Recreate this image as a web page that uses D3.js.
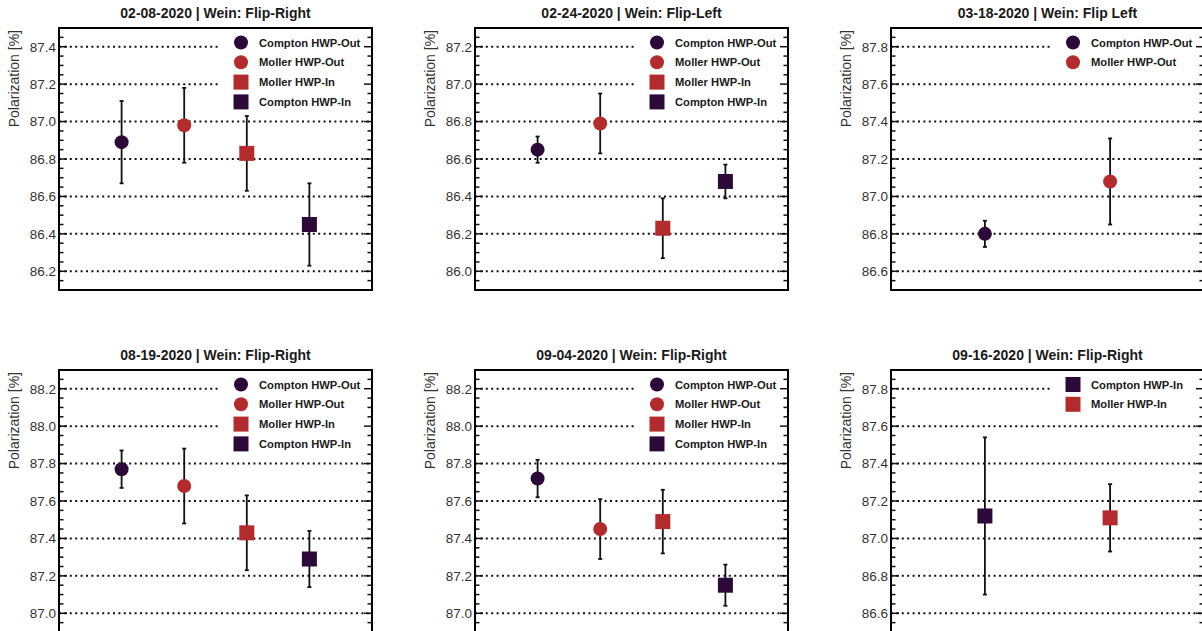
<!DOCTYPE html>
<html>
<head>
<meta charset="utf-8">
<script src="https://cdn.jsdelivr.net/npm/d3@7"></script>
<style>
  html, body { margin: 0; padding: 0; background: #fff; }
  svg { display: block; font-family: "Liberation Sans", Arial, Helvetica, sans-serif; }
</style>
</head>
<body>
<svg id="chart" width="1202" height="631"></svg>
<script>
// ---------- DATA ----------
const panelTitles = [
  "02-08-2020 | Wein: Flip-Right",
  "02-24-2020 | Wein: Flip-Left",
  "03-18-2020 | Wein: Flip Left",
  "08-19-2020 | Wein: Flip-Right",
  "09-04-2020 | Wein: Flip-Right",
  "09-16-2020 | Wein: Flip-Right"
];
const yDomains = [
  [86.1, 87.5],
  [85.9, 87.3],
  [86.5, 87.9],
  [86.9, 88.3],
  [86.9, 88.3],
  [86.5, 87.9]
];
const seriesNames = ["Compton HWP-Out", "Moller HWP-Out", "Moller HWP-In", "Compton HWP-In"];
// which series appear in each panel (legend order = plot order)
const panelSeries = [
  [0, 1, 2, 3],
  [0, 1, 2, 3],
  [0, 1],
  [0, 1, 2, 3],
  [0, 1, 2, 3],
  [3, 2]
];
const panelXPos = [
  [1, 2, 3, 4],
  [1, 2, 3, 4],
  [1.5, 3.5],
  [1, 2, 3, 4],
  [1, 2, 3, 4],
  [1.5, 3.5]
];
const panelValues = [
  [86.89, 86.98, 86.83, 86.45],
  [86.65, 86.79, 86.23, 86.48],
  [86.80, 87.08],
  [87.77, 87.68, 87.43, 87.29],
  [87.72, 87.45, 87.49, 87.15],
  [87.12, 87.11]
];
const panelErrors = [
  [0.22, 0.20, 0.20, 0.22],
  [0.07, 0.16, 0.16, 0.09],
  [0.07, 0.23],
  [0.10, 0.20, 0.20, 0.15],
  [0.10, 0.16, 0.17, 0.11],
  [0.42, 0.18]
];
const xDomain = [0, 5];
const yLabel = "Polarization [%]";

// ---------- STYLE ----------
const DARK = "#2b0a3a";
const RED = "#b32b2c";
const seriesStyle = [
  { color: DARK, shape: "circle" },
  { color: RED, shape: "circle" },
  { color: RED, shape: "square" },
  { color: DARK, shape: "square" }
];

const svg = d3.select("#chart");
const W = 313, H = 262;
const colX = [59, 475, 891];
const rowY = [28, 370];

panelTitles.forEach((title, i) => {
  const x0 = colX[i % 3], y0 = rowY[Math.floor(i / 3)];
  const g = svg.append("g").attr("transform", `translate(${x0},${y0})`);
  const x = d3.scaleLinear().domain(xDomain).range([0, W]);
  const y = d3.scaleLinear().domain(yDomains[i]).range([H, 0]);

  const [lo, hi] = yDomains[i];
  const majors = d3.range(Math.ceil(lo / 0.2 - 1e-6) * 0.2, hi + 1e-6, 0.2).map(v => +v.toFixed(2));
  const minors = d3.range(Math.ceil(lo / 0.05 - 1e-6) * 0.05, hi + 1e-6, 0.05).map(v => +v.toFixed(2))
    .filter(v => !majors.some(m => Math.abs(m - v) < 1e-6));

  // grid
  g.selectAll("line.grid").data(majors).join("line")
    .attr("class", "grid")
    .attr("x1", 0).attr("x2", W)
    .attr("y1", d => y(d)).attr("y2", d => y(d))
    .attr("stroke", "#111").attr("stroke-width", 2)
    .attr("stroke-dasharray", "2,3.4");

  // legend background
  const names = panelSeries[i];
  const lg = g.append("g");
  lg.append("rect")
    .attr("x", 160).attr("y", 1)
    .attr("width", W - 161).attr("height", names.length * 20 + 6)
    .attr("fill", "#fff");

  // axes (left and right, inward ticks)
  const leftAxis = d3.axisLeft(y).tickValues(majors).tickFormat(d3.format(".1f")).tickSize(0).tickPadding(3);
  const ax = g.append("g").call(leftAxis);
  ax.select(".domain").remove();
  ax.selectAll("text").attr("font-size", "13.5px").attr("fill", "#333")
    .attr("font-family", "'Liberation Sans', Arial, sans-serif");

  const tickG = g.append("g").attr("stroke", "#111").attr("stroke-width", 1.5);
  [[0, 1], [W, -1]].forEach(([bx, dir]) => {
    tickG.selectAll(null).data(majors).join("line")
      .attr("x1", bx).attr("x2", bx + dir * 8)
      .attr("y1", d => y(d)).attr("y2", d => y(d));
    tickG.selectAll(null).data(minors).join("line")
      .attr("x1", bx).attr("x2", bx + dir * 4.5)
      .attr("y1", d => y(d)).attr("y2", d => y(d));
  });

  // frame
  g.append("rect").attr("x", 0).attr("y", 0).attr("width", W).attr("height", H)
    .attr("fill", "none").attr("stroke", "#000").attr("stroke-width", 2);

  // title
  g.append("text").attr("x", W / 2).attr("y", -10)
    .attr("text-anchor", "middle").attr("font-size", "14px").attr("font-weight", "bold")
    .attr("fill", "#1a1a1a").text(title);

  // y label
  g.append("text")
    .attr("transform", `translate(${18.5 - x0 + (x0 - 59)}, 2) rotate(-90)`)
    .attr("text-anchor", "end").attr("font-size", "14px").attr("fill", "#333")
    .text(yLabel);

  // data
  const pts = names.map((s, k) => ({
    s, xv: panelXPos[i][k], v: panelValues[i][k], e: panelErrors[i][k]
  }));
  const eg = g.append("g").attr("stroke", "#111").attr("stroke-width", 1.8);
  pts.forEach(p => {
    const px = x(p.xv);
    eg.append("line").attr("x1", px).attr("x2", px).attr("y1", y(p.v + p.e)).attr("y2", y(p.v - p.e));
    [p.v + p.e, p.v - p.e].forEach(c =>
      eg.append("line").attr("x1", px - 2).attr("x2", px + 2).attr("y1", y(c)).attr("y2", y(c)));
  });
  function marker(sel, st, cx, cy) {
    if (st.shape === "circle") {
      sel.append("circle").attr("cx", cx).attr("cy", cy).attr("r", 7).attr("fill", st.color);
    } else {
      sel.append("rect").attr("x", cx - 7.5).attr("y", cy - 7.5).attr("width", 15).attr("height", 15).attr("fill", st.color);
    }
  }
  pts.forEach(p => marker(g, seriesStyle[p.s], x(p.xv), y(p.v)));

  // legend entries
  names.forEach((s, k) => {
    const ly = 14.5 + k * 19.8;
    marker(lg, seriesStyle[s], 182, ly);
    lg.append("text").attr("x", 200).attr("y", ly + 4)
      .attr("font-size", "11.2px").attr("font-weight", "bold").attr("fill", "#1a1a1a")
      .text(seriesNames[s]);
  });
});
</script>
</body>
</html>
